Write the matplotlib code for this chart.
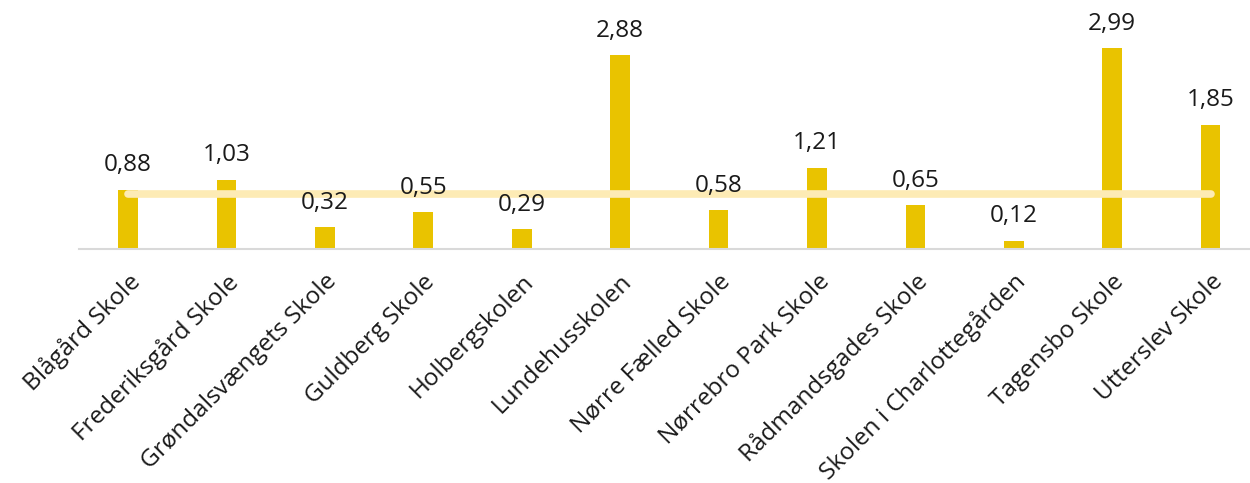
import matplotlib
matplotlib.use('Agg')
import matplotlib.pyplot as plt

# Data
schools = [
    "Blågård Skole", "Frederiksgård Skole", "Grøndalsvængets Skole",
    "Guldberg Skole", "Holbergskolen", "Lundehusskolen",
    "Nørre Fælled Skole", "Nørrebro Park Skole", "Rådmandsgades Skole",
    "Skolen i Charlottegården", "Tagensbo Skole", "Utterslev Skole",
]
values = [0.88, 1.03, 0.32, 0.55, 0.29, 2.88, 0.58, 1.21, 0.65, 0.12, 2.99, 1.85]
reference_level = 0.82

BAR_COLOR = '#E9C300'
LINE_COLOR = '#FDEBB5'

plt.rcParams['font.family'] = ['Open Sans', 'DejaVu Sans']

fig = plt.figure(figsize=(12.5, 4.83), dpi=100)
ax = fig.add_axes([0.063, 0.4845, 0.937, 0.5155])

x = list(range(len(schools)))
ax.bar(x, values, width=0.2, color=BAR_COLOR, zorder=2)
ax.plot([x[0], x[-1]], [reference_level] * 2, color=LINE_COLOR,
        lw=5.5, solid_capstyle='round', zorder=3)

for xi, v in zip(x, values):
    ax.annotate(f"{v:.2f}".replace('.', ','), (xi, v), xytext=(0, 9),
                textcoords='offset points', ha='center', va='bottom',
                fontsize=17.5, color='#1a1a1a')

ax.set_xlim(-0.5, 11.4)
ax.set_ylim(0, 3.705)
ax.set_yticks([])
ax.set_xticks(x)
ax.set_xticklabels(schools, rotation=45, ha='right', rotation_mode='anchor',
                   fontsize=17.5, color='#1a1a1a')
ax.tick_params(axis='x', length=0, pad=15)
for side in ['top', 'left', 'right']:
    ax.spines[side].set_visible(False)
ax.spines['bottom'].set_color('#d9d9d9')
ax.spines['bottom'].set_linewidth(1.5)

fig.savefig('out.png', dpi=100)
